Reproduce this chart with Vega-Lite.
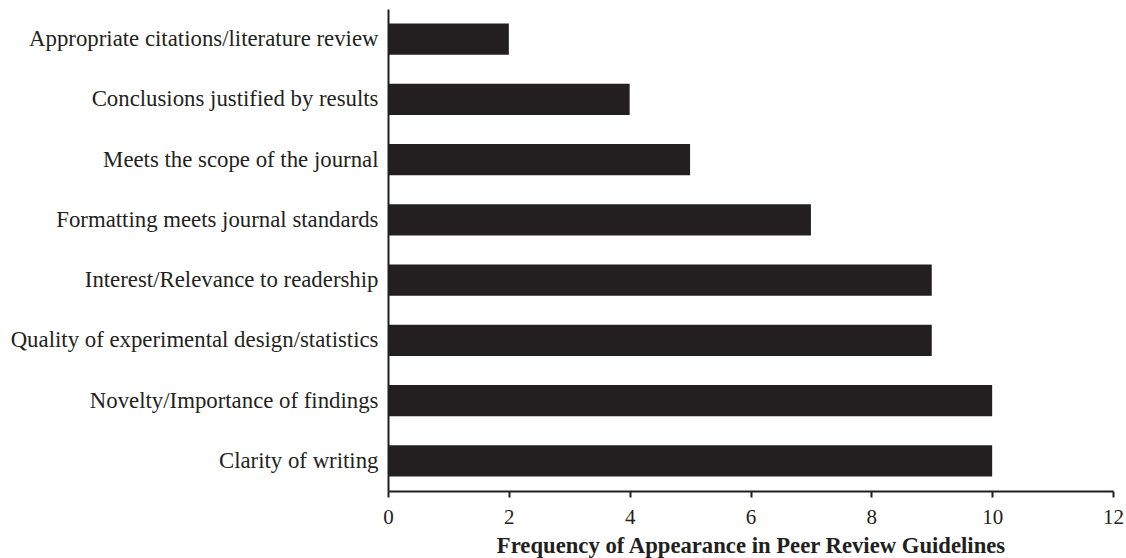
{
  "$schema": "https://vega.github.io/schema/vega-lite/v6.json",
  "width": 725,
  "height": 482,
  "autosize": {"type": "none"},
  "padding": {"left": 388, "top": 9, "right": 13, "bottom": 67},
  "background": "white",
  "data": {
    "values": [
      {"criterion": "Appropriate citations/literature review", "freq": 2},
      {"criterion": "Conclusions justified by results", "freq": 4},
      {"criterion": "Meets the scope of the journal", "freq": 5},
      {"criterion": "Formatting meets journal standards", "freq": 7},
      {"criterion": "Interest/Relevance to readership", "freq": 9},
      {"criterion": "Quality of experimental design/statistics", "freq": 9},
      {"criterion": "Novelty/Importance of findings", "freq": 10},
      {"criterion": "Clarity of writing", "freq": 10}
    ]
  },
  "mark": {"type": "bar", "color": "#231f20"},
  "encoding": {
    "y": {
      "field": "criterion",
      "type": "nominal",
      "sort": null,
      "scale": {"paddingInner": 0.48, "paddingOuter": 0.24},
      "axis": {
        "title": null,
        "ticks": false,
        "labelFont": "Liberation Serif",
        "labelFontSize": 22.8,
        "labelColor": "#231f20",
        "labelPadding": 10,
        "domainColor": "#231f20",
        "domainWidth": 2,
        "labelLimit": 400
      }
    },
    "x": {
      "field": "freq",
      "type": "quantitative",
      "scale": {"domain": [0, 12], "nice": false},
      "axis": {
        "values": [0, 2, 4, 6, 8, 10, 12],
        "grid": false,
        "title": "Frequency of Appearance in Peer Review Guidelines",
        "titleFont": "Liberation Serif",
        "titleFontSize": 22.7,
        "titleFontWeight": "bold",
        "titleColor": "#231f20",
        "titlePadding": 7,
        "labelFont": "Liberation Serif",
        "labelFontSize": 21,
        "labelColor": "#231f20",
        "labelPadding": 9,
        "tickSize": 6,
        "tickColor": "#231f20",
        "tickWidth": 2,
        "domainColor": "#231f20",
        "domainWidth": 2,
        "labelFlush": false
      }
    }
  },
  "config": {"view": {"stroke": null}}
}
